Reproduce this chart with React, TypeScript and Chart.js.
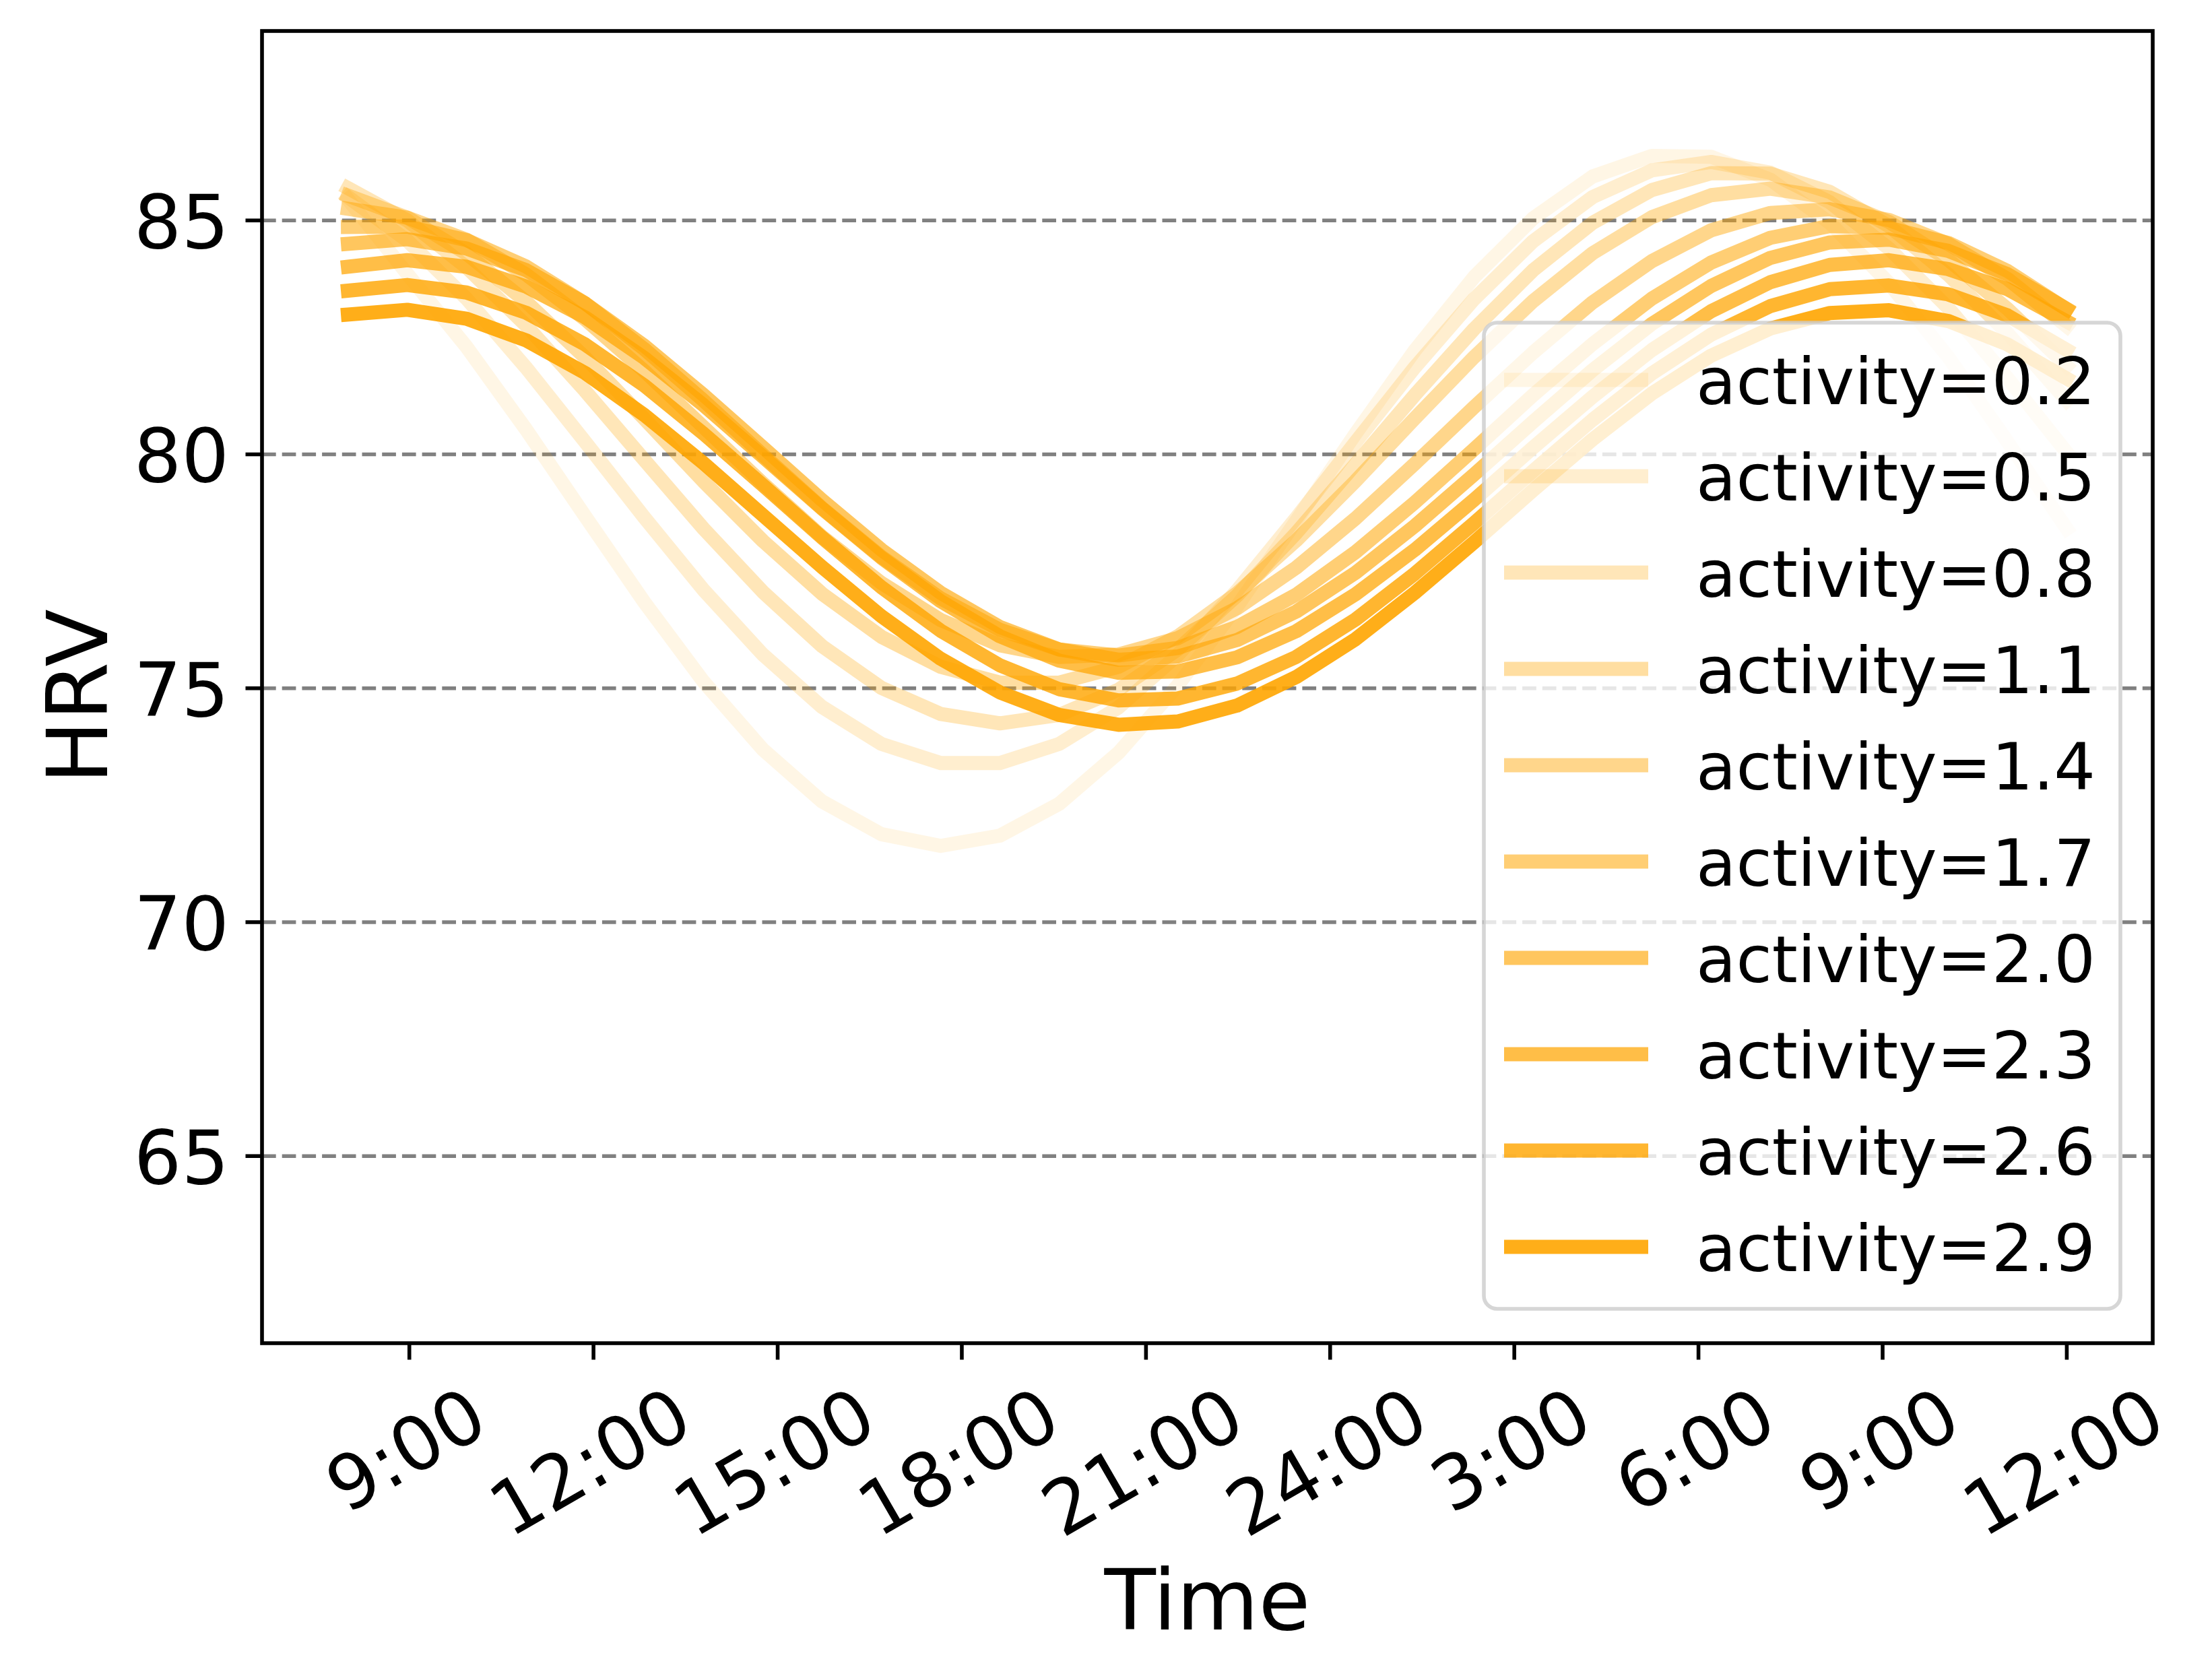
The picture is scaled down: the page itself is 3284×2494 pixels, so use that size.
import React, { useEffect, useRef } from "react";
import { Chart, registerables } from "chart.js";

Chart.register(...registerables);

// ---------- data ----------
const hours = [
  8.0, 8.966, 9.931, 10.897, 11.862, 12.828, 13.793, 14.759, 15.724, 16.69,
  17.655, 18.621, 19.586, 20.552, 21.517, 22.483, 23.448, 24.414, 25.379, 26.345,
  27.31, 28.276, 29.241, 30.207, 31.172, 32.138, 33.103, 34.069, 35.034, 36.0,
];

const activityLabels = [
  "activity=0.2", "activity=0.5", "activity=0.8", "activity=1.1", "activity=1.4",
  "activity=1.7", "activity=2.0", "activity=2.3", "activity=2.6", "activity=2.9",
];

const hrvActivity02 = [85.45, 83.86, 82.30, 80.54, 78.68, 76.84, 75.14, 73.69, 72.58, 71.88, 71.63, 71.85, 72.53, 73.62, 75.06, 76.75, 78.58, 80.44, 82.22, 83.79, 85.05, 85.94, 86.38, 86.36, 85.87, 84.95, 83.66, 82.08, 80.27, 78.41];
const hrvActivity05 = [85.50, 84.57, 83.33, 81.86, 80.27, 78.65, 77.10, 75.72, 74.60, 73.81, 73.40, 73.40, 73.81, 74.59, 75.71, 77.09, 78.64, 80.26, 81.86, 83.32, 84.56, 85.50, 86.07, 86.25, 86.02, 85.39, 84.40, 83.13, 81.63, 80.04];
const hrvActivity08 = [85.69, 85.00, 84.00, 82.76, 81.36, 79.88, 78.41, 77.06, 75.90, 75.01, 74.45, 74.25, 74.43, 74.97, 75.83, 76.98, 78.32, 79.79, 81.27, 82.68, 83.94, 84.95, 85.65, 86.01, 86.00, 85.61, 84.88, 83.84, 82.59, 81.15];
const hrvActivity11 = [85.53, 85.06, 84.29, 83.27, 82.07, 80.76, 79.42, 78.15, 77.02, 76.10, 75.46, 75.12, 75.12, 75.46, 76.11, 77.03, 78.16, 79.43, 80.77, 82.08, 83.28, 84.30, 85.07, 85.54, 85.68, 85.49, 84.97, 84.16, 83.11, 81.89];
const hrvActivity14 = [85.25, 85.06, 84.59, 83.85, 82.89, 81.78, 80.58, 79.38, 78.24, 77.25, 76.46, 75.92, 75.67, 75.72, 76.07, 76.71, 77.58, 78.63, 79.80, 81.01, 82.18, 83.25, 84.13, 84.79, 85.16, 85.24, 85.01, 84.50, 83.75, 82.74];
const hrvActivity17 = [84.86, 84.87, 84.58, 84.02, 83.23, 82.25, 81.15, 79.99, 78.85, 77.81, 76.92, 76.25, 75.83, 75.70, 75.86, 76.31, 77.00, 77.91, 78.97, 80.11, 81.27, 82.36, 83.33, 84.10, 84.63, 84.88, 84.84, 84.52, 83.92, 83.10];
const hrvActivity20 = [84.50, 84.60, 84.40, 83.94, 83.23, 82.32, 81.27, 80.15, 79.02, 77.96, 77.04, 76.31, 75.83, 75.61, 75.68, 76.03, 76.64, 77.47, 78.47, 79.57, 80.70, 81.80, 82.79, 83.60, 84.20, 84.53, 84.59, 84.35, 83.85, 83.11];
const hrvActivity23 = [84.01, 84.15, 84.01, 83.59, 82.93, 82.06, 81.05, 79.95, 78.84, 77.79, 76.86, 76.11, 75.59, 75.33, 75.36, 75.66, 76.22, 77.01, 77.96, 79.03, 80.15, 81.23, 82.23, 83.06, 83.68, 84.05, 84.15, 83.96, 83.53, 82.84];
const hrvActivity26 = [83.50, 83.62, 83.46, 83.03, 82.35, 81.47, 80.44, 79.34, 78.22, 77.16, 76.23, 75.49, 74.98, 74.74, 74.78, 75.10, 75.67, 76.47, 77.45, 78.53, 79.65, 80.74, 81.73, 82.56, 83.17, 83.53, 83.61, 83.42, 82.97, 82.23];
const hrvActivity29 = [82.99, 83.09, 82.90, 82.44, 81.74, 80.84, 79.81, 78.70, 77.59, 76.54, 75.63, 74.91, 74.43, 74.22, 74.29, 74.63, 75.24, 76.05, 77.04, 78.12, 79.24, 80.32, 81.30, 82.11, 82.69, 83.02, 83.08, 82.85, 82.35, 81.62];

const hrvSeries = [
  hrvActivity02, hrvActivity05, hrvActivity08, hrvActivity11, hrvActivity14,
  hrvActivity17, hrvActivity20, hrvActivity23, hrvActivity26, hrvActivity29,
];

const lineAlphas = [0.1, 0.189, 0.278, 0.367, 0.456, 0.544, 0.633, 0.722, 0.811, 0.9];

const xTickValues = [9, 12, 15, 18, 21, 24, 27, 30, 33, 36];
const xTickLabels = ["9:00", "12:00", "15:00", "18:00", "21:00", "24:00", "3:00", "6:00", "9:00", "12:00"];
const yTickValues = [65, 70, 75, 80, 85];

// ---------- layout / style ----------
const CANVAS_W = 3284;
const CANVAS_H = 2494;
const AREA = { left: 389, top: 46, right: 3196, bottom: 1994 };
const FONT = '"DejaVu Sans", "Liberation Sans", sans-serif';
const TICK_FONT = 111;
const LABEL_FONT = 125;
const LEGEND_FONT = 97;
const SPINE_W = 5.6;
const TICK_LEN = 24.5;
const LINE_W = 21;

function roundRectPath(ctx: CanvasRenderingContext2D, x: number, y: number, w: number, h: number, r: number) {
  ctx.beginPath();
  ctx.moveTo(x + r, y);
  ctx.lineTo(x + w - r, y);
  ctx.arcTo(x + w, y, x + w, y + r, r);
  ctx.lineTo(x + w, y + h - r);
  ctx.arcTo(x + w, y + h, x + w - r, y + h, r);
  ctx.lineTo(x + r, y + h);
  ctx.arcTo(x, y + h, x, y + h - r, r);
  ctx.lineTo(x, y + r);
  ctx.arcTo(x, y, x + r, y, r);
  ctx.closePath();
}

const decorPlugin = {
  id: "mplDecor",
  beforeDatasetsDraw(chart: any) {
    const { ctx, chartArea: a } = chart;
    const y = chart.scales.y;
    ctx.save();
    ctx.strokeStyle = "#808080";
    ctx.lineWidth = SPINE_W;
    ctx.setLineDash([20.7, 9]);
    for (const v of yTickValues) {
      const py = y.getPixelForValue(v);
      ctx.beginPath();
      ctx.moveTo(a.left, py);
      ctx.lineTo(a.right, py);
      ctx.stroke();
    }
    ctx.restore();
  },
  afterDatasetsDraw(chart: any) {
    const { ctx, chartArea: a } = chart;
    const x = chart.scales.x;
    const y = chart.scales.y;
    ctx.save();
    // spines
    ctx.strokeStyle = "#000";
    ctx.lineWidth = SPINE_W;
    ctx.setLineDash([]);
    ctx.strokeRect(a.left, a.top, a.right - a.left, a.bottom - a.top);

    // y ticks + labels
    ctx.fillStyle = "#000";
    ctx.font = `${TICK_FONT}px ${FONT}`;
    ctx.textAlign = "right";
    ctx.textBaseline = "alphabetic";
    for (const v of yTickValues) {
      const py = y.getPixelForValue(v);
      ctx.beginPath();
      ctx.moveTo(a.left - TICK_LEN, py);
      ctx.lineTo(a.left, py);
      ctx.stroke();
      ctx.fillText(String(v), a.left - 2 * TICK_LEN, py + 41);
    }

    // x ticks + rotated labels (centered, top-aligned rotated box)
    const theta = (30 * Math.PI) / 180;
    const boxH = 1.164 * TICK_FONT;
    const labelTop = a.bottom + 39;
    xTickValues.forEach((v, i) => {
      const px = x.getPixelForValue(v);
      ctx.beginPath();
      ctx.moveTo(px, a.bottom);
      ctx.lineTo(px, a.bottom + TICK_LEN);
      ctx.stroke();
      const label = xTickLabels[i];
      const w = ctx.measureText(label).width;
      const bboxH = w * Math.sin(theta) + boxH * Math.cos(theta);
      ctx.save();
      ctx.translate(px - 6, labelTop + bboxH / 2);
      ctx.rotate(-theta);
      ctx.textAlign = "center";
      ctx.fillText(label, 0, 0.3645 * TICK_FONT);
      ctx.restore();
    });

    // axis titles
    ctx.font = `${LABEL_FONT}px ${FONT}`;
    ctx.textAlign = "center";
    ctx.fillText("Time", (a.left + a.right) / 2, 2419);
    ctx.save();
    ctx.translate(159, (a.top + a.bottom) / 2 + 14);
    ctx.rotate(-Math.PI / 2);
    ctx.fillText("HRV", 0, 0);
    ctx.restore();

    // legend
    const lgRight = a.right - 48;
    const lgBottom = a.bottom - 51;
    const lgLeft = lgRight - 945;
    const lgTop = lgBottom - 1464;
    roundRectPath(ctx, lgLeft, lgTop, lgRight - lgLeft, lgBottom - lgTop, 19.6);
    ctx.fillStyle = "rgba(255,255,255,0.8)";
    ctx.fill();
    ctx.strokeStyle = "rgba(204,204,204,0.8)";
    ctx.lineWidth = SPINE_W;
    ctx.stroke();

    ctx.font = `${LEGEND_FONT}px ${FONT}`;
    ctx.textAlign = "left";
    const datasets = chart.data.datasets;
    datasets.forEach((ds: any, i: number) => {
      const cy = lgTop + 85 + 143 * i;
      ctx.strokeStyle = ds.borderColor;
      ctx.lineWidth = LINE_W;
      ctx.lineCap = "butt";
      ctx.beginPath();
      ctx.moveTo(lgLeft + 30, cy);
      ctx.lineTo(lgLeft + 244, cy);
      ctx.stroke();
      ctx.fillStyle = "#000";
      ctx.fillText(ds.label, lgLeft + 315, cy + 36);
    });
    ctx.restore();
  },
};

export default function App() {
  const canvasRef = useRef<HTMLCanvasElement | null>(null);

  useEffect(() => {
    if (!canvasRef.current) return;
    const datasets = hrvSeries.map((vals, k) => ({
      label: activityLabels[k],
      data: hours.map((h, i) => ({ x: h, y: vals[i] })),
      borderColor: `rgba(255,165,0,${lineAlphas[k]})`,
      backgroundColor: `rgba(255,165,0,${lineAlphas[k]})`,
      borderWidth: LINE_W,
      borderCapStyle: "square" as const,
      borderJoinStyle: "round" as const,
      pointRadius: 0,
      tension: 0,
      fill: false,
      order: hrvSeries.length - 1 - k,
    }));

    const chart = new Chart(canvasRef.current, {
      type: "line",
      data: { datasets },
      options: {
        responsive: false,
        animation: false,
        devicePixelRatio: 1,
        events: [],
        layout: {
          padding: {
            left: AREA.left,
            top: AREA.top,
            right: CANVAS_W - AREA.right,
            bottom: CANVAS_H - AREA.bottom,
          },
        },
        plugins: {
          legend: { display: false },
          tooltip: { enabled: false },
        },
        scales: {
          x: { type: "linear", min: 6.6, max: 37.4, display: false },
          y: { type: "linear", min: 61.0, max: 89.05, display: false },
        },
      },
      plugins: [decorPlugin],
    });
    return () => chart.destroy();
  }, []);

  return (
    <div style={{ position: "absolute", left: 0, top: 0, width: CANVAS_W, height: CANVAS_H, background: "#fff" }}>
      <canvas ref={canvasRef} width={CANVAS_W} height={CANVAS_H} style={{ display: "block", width: CANVAS_W, height: CANVAS_H }} />
    </div>
  );
}
